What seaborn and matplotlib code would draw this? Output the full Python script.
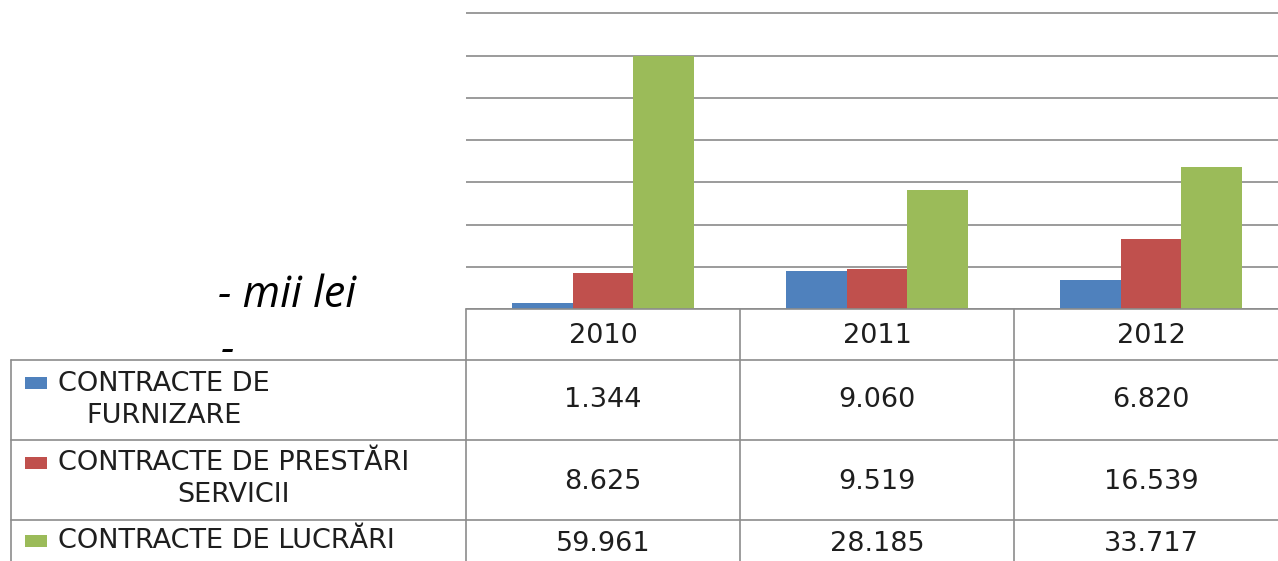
import numpy as np
import pandas as pd
import matplotlib
matplotlib.use("Agg")
import matplotlib.pyplot as plt
import matplotlib.transforms as mtransforms
from matplotlib.lines import Line2D
from matplotlib.patches import Rectangle
import seaborn as sns

# data (mii lei)
years      = ["2010", "2011", "2012"]
series     = ["CONTRACTE DE\nFURNIZARE", "CONTRACTE DE PRESTĂRI\nSERVICII", "CONTRACTE DE LUCRĂRI"]
furnizare  = [1.344, 9.060, 6.820]
prestari   = [8.625, 9.519, 16.539]
lucrari    = [59.961, 28.185, 33.717]
value_text = [["1.344", "9.060", "6.820"],
              ["8.625", "9.519", "16.539"],
              ["59.961", "28.185", "33.717"]]
colors     = ["#4F81BD", "#C0504D", "#9BBB59"]

W, H = 1278, 561
sns.set_style("white")
plt.rcParams["font.family"] = ["DejaVu Sans"]

df = pd.DataFrame({
    "an":      years * 3,
    "valoare": furnizare + prestari + lucrari,
    "tip":     [s for s in series for _ in years],
})

fig = plt.figure(figsize=(W / 100, H / 100), dpi=100)
# category range -0.5..2.5 -> 466..1288 px, value 0..70 -> 309..13.3 px
px_per_unit = (309 - 13.3) / 70
ymax = 70.6
ax = fig.add_axes([466 / W, 1 - 309 / H, (1288 - 466) / W, ymax * px_per_unit / H])
sns.barplot(data=df, x="an", y="valoare", hue="tip", palette=colors,
            width=0.665, gap=0, saturation=1, linewidth=0, legend=False, ax=ax)
ax.set_xlim(-0.5, 2.5)
ax.set_ylim(0, ymax)
ax.set_yticks(np.arange(0, 71, 10))
ax.yaxis.grid(True, color="#8a8a8a", linewidth=1.2)
ax.set_axisbelow(True)
for sp in ax.spines.values():
    sp.set_visible(False)
ax.tick_params(left=False, bottom=False, labelleft=False, labelbottom=False)
ax.set_xlabel("")
ax.set_ylabel("")

# data table below the chart
line_kw = dict(color="#8c8c8c", linewidth=1.2)
tpix = mtransforms.blended_transform_factory(ax.transData, fig.transFigure)


def fy(y):
    return 1 - y / H


def fx(x):
    return x / W


# horizontal borders
fig.add_artist(Line2D([fx(466), 1], [fy(309), fy(309)], **line_kw))
for y in [360, 439.5, 519.5]:
    fig.add_artist(Line2D([fx(11), 1], [fy(y), fy(y)], **line_kw))
# vertical borders
fig.add_artist(Line2D([fx(11), fx(11)], [fy(360), 0], **line_kw))
for xc in [-0.5, 0.5, 1.5]:
    fig.add_artist(Line2D([xc, xc], [fy(309), 0], transform=tpix, **line_kw))

txt_kw = dict(fontsize=19.5, color="#1e1e1e", va="baseline")
for i, yr in enumerate(years):
    fig.text(i, fy(343), yr, ha="center", transform=tpix, **txt_kw)

row_base = [423, 502, 548]   # baseline of last line of each label
val_base = [407, 489, 551]
box_top  = [377, 457, 535]
for r, name in enumerate(series):
    fig.text(fx(58), fy(row_base[r]), name, ha="left", multialignment="center",
             linespacing=1.3, **txt_kw)
    fig.add_artist(Rectangle((fx(25), fy(box_top[r] + 12)), 22 / W, 12 / H,
                             transform=fig.transFigure, color=colors[r], linewidth=0))
    for c in range(len(years)):
        fig.text(c, fy(val_base[r]), value_text[r][c], ha="center", transform=tpix, **txt_kw)

fig.text(fx(218), fy(307), "- mii lei", fontsize=31, style="italic",
         family=["Open Sans", "DejaVu Sans"], color="black", va="baseline")
fig.text(fx(221), fy(362), "-", fontsize=31, style="italic",
         family=["Open Sans", "DejaVu Sans"], color="black", va="baseline")

fig.savefig("out.png", dpi=100)
